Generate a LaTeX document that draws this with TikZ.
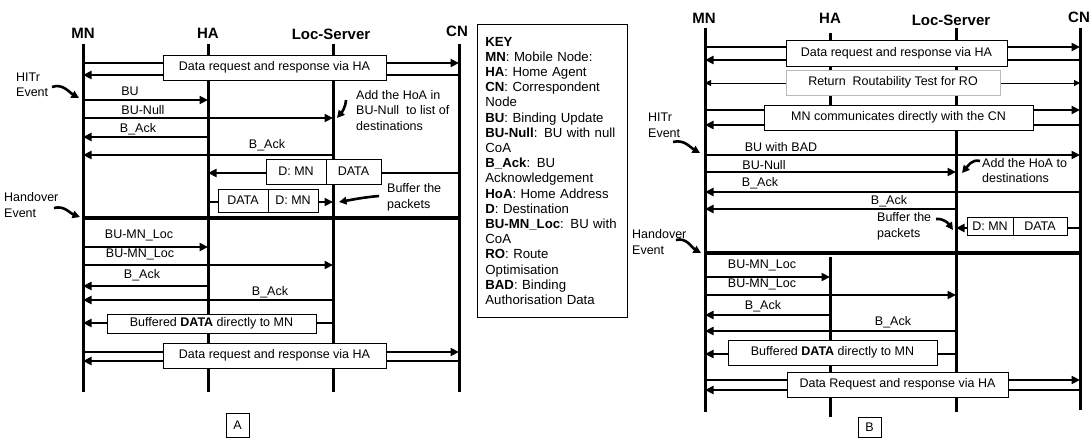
\documentclass[tikz,border=0pt]{standalone}
\usepackage{fontspec}
\setmainfont{Liberation Sans}
\usetikzlibrary{arrows.meta}
\tikzset{
  life/.style={line width=3pt},
  msg/.style={line width=2.6pt,-{Triangle[length=8.5pt,width=8pt]}},
  rrmsg/.style={line width=1pt,{Triangle[length=6pt,width=6pt]}-{Triangle[length=6pt,width=6pt]}},
  hand/.style={line width=4.5pt},
  evt/.style={line width=2.6pt,-{Triangle[length=7.5pt,width=7.5pt]}},
  txt/.style={inner sep=0pt,font=\fontsize{12.5}{15.5}\selectfont},
  lab/.style={txt},
  note/.style={txt,anchor=west,align=left},
  mbox/.style 2 args={txt,draw,fill=white,line width=0.8pt,minimum width=#1pt,minimum height=#2pt},
  head/.style={inner sep=0pt,font=\fontsize{15}{17}\selectfont\bfseries},
}
\begin{document}
\begin{tikzpicture}[x=1pt,y=-1pt]
\useasboundingbox (0,0) rectangle (1092,439);
% A
\coordinate (mnA) at (83,44);
\coordinate (haA) at (208,44);
\coordinate (lsA) at (333,44);
\coordinate (cnA) at (459,44);
\node[head] (tmnA) at (83,33) {MN};
\node[head] (thaA) at (208,33) {HA};
\node[head] (tlsA) at (331,34) {Loc-Server};
\node[head] (tcnA) at (457,31) {CN};
\draw[life] (mnA) -- (mnA |- 0,392);
\draw[life] (haA) -- (haA |- 0,392);
\draw[life] (lsA) -- (lsA |- 0,392);
\draw[life] (cnA) -- (cnA |- 0,392);

\draw[msg] (mnA |- 0,63) -- (cnA |- 0,63);
\draw[msg] (cnA |- 0,75) -- (mnA |- 0,75);
\node[mbox={223}{25}] (reqA1) at (274.5,67.5) {Data request and response via HA};

\node[note] (hitrA) at (16,85) {HITr\\Event};
\coordinate (hitrAs) at (52,87);
\coordinate (hitrAe) at (79,98);
\draw[evt] (hitrAs) to[out=20,in=150] (hitrAe);

\draw[msg] (mnA |- 0,100) -- (haA |- 0,100);
\node[lab] (buA) at (130,91) {BU};
\draw[msg] (mnA |- 0,118) -- (lsA |- 0,118);
\node[lab] (bunullA) at (143,110) {BU-Null};
\draw[msg] (haA |- 0,137) -- (mnA |- 0,137);
\node[lab] (ackA1) at (138,129) {B\_Ack};
\draw[msg] (lsA |- 0,155) -- (mnA |- 0,155);
\node[lab] (ackA2) at (267,145) {B\_Ack};

\node[note] (addA) at (356,110.5) {Add the HoA in\\BU-Null~ to list of\\destinations};
\coordinate (addAs) at (346,100);
\coordinate (addAe) at (337,118);
\draw[evt] (addAs) to[out=-95,in=50] (addAe);

\draw[msg] (cnA |- 0,173) -- (haA |- 0,173);
\node[mbox={60}{25}] (dmnA1) at (296,171.5) {D: MN};
\node[mbox={55}{25}] (dataA1) at (353.5,171.5) {DATA};
\draw[msg] (haA |- 0,202) -- (lsA |- 0,202);
\node[mbox={50}{23}] (dataA2) at (243,200.5) {DATA};
\node[mbox={50}{23}] (dmnA2) at (293,200.5) {D: MN};
\node[note] (bufA) at (387,197.5) {Buffer the\\packets};
\coordinate (bufAs) at (379,196);
\coordinate (bufAe) at (339,202);
\draw[evt] (bufAs) to[out=185,in=10] (bufAe);

\draw[hand] (mnA |- 0,218) -- (cnA |- 0,218);
\node[note] (hoA) at (4,205) {Handover\\Event};
\coordinate (hoAs) at (54,208);
\coordinate (hoAe) at (80,217);
\draw[evt] (hoAs) to[out=15,in=160] (hoAe);

\draw[msg] (mnA |- 0,247) -- (haA |- 0,247);
\node[lab] (locA1) at (139,235) {BU-MN\_Loc};
\draw[msg] (mnA |- 0,265) -- (lsA |- 0,265);
\node[lab] (locA2) at (140,254) {BU-MN\_Loc};
\draw[msg] (haA |- 0,286) -- (mnA |- 0,286);
\node[lab] (ackA3) at (142,275) {B\_Ack};
\draw[msg] (lsA |- 0,300) -- (mnA |- 0,300);
\node[lab] (ackA4) at (270,292) {B\_Ack};
\draw[msg] (lsA |- 0,323) -- (mnA |- 0,323);
\node[mbox={209}{19}] (bufdA) at (211.5,323.5) {Buffered \textbf{DATA} directly to MN};
\draw[msg] (mnA |- 0,352) -- (cnA |- 0,352);
\draw[msg] (cnA |- 0,361) -- (mnA |- 0,361);
\node[mbox={223}{25}] (reqA2) at (274.5,355.5) {Data request and response via HA};
\node[mbox={23}{24}] (capA) at (237.5,425) {A};

% key
\node[draw,line width=0.8pt,anchor=north west,inner xsep=8pt,inner ysep=0pt,
  minimum height=293pt,text width=134pt,align=left,
  font=\fontsize{13.2}{15.2}\selectfont] (key) at (477,24) {%
\textbf{KEY}\\
\textbf{MN}: Mobile Node:\\
\textbf{HA}: Home Agent\\
\textbf{CN}: Correspondent\\
Node\\
\textbf{BU}: Binding Update\\
\textbf{BU-Null}: BU with null\\
CoA\\
\textbf{B\_Ack}: BU\\
Acknowledgement\\
\textbf{HoA}: Home Address\\
\textbf{D}: Destination\\
\textbf{BU-MN\_Loc}: BU with\\
CoA\\
\textbf{RO}: Route\\
Optimisation\\
\textbf{BAD}: Binding\\
Authorisation Data};

% B
\coordinate (mnB) at (705,28);
\coordinate (haB) at (830,33);
\coordinate (lsB) at (956,28);
\coordinate (cnB) at (1080,28);
\node[head] (tmnB) at (704,18) {MN};
\node[head] (thaB) at (830,18) {HA};
\node[head] (tlsB) at (951,20) {Loc-Server};
\node[head] (tcnB) at (1079,17) {CN};
\draw[life] (mnB) -- (mnB |- 0,412);
\draw[life] (haB) -- (haB |- 0,110);
\draw[life] (haB |- 0,257) -- (haB |- 0,417);
\draw[life] (lsB) -- (lsB |- 0,412);
\draw[life] (cnB) -- (cnB |- 0,410);

\draw[msg] (mnB |- 0,47) -- (cnB |- 0,47);
\draw[msg] (cnB |- 0,60) -- (mnB |- 0,60);
\node[mbox={221}{26}] (reqB1) at (896.5,53) {Data request and response via HA};
\draw[rrmsg] (mnB |- 0,83) -- (cnB |- 0,83);
\node[mbox={214}{25},draw=gray!55] (rrB) at (893,82.5) {Return\ \ Routability Test for RO};
\draw[msg] (mnB |- 0,110) -- (cnB |- 0,110);
\draw[msg] (cnB |- 0,125) -- (mnB |- 0,125);
\node[mbox={269}{25}] (dirB) at (898.5,117.5) {MN communicates directly with the CN};

\node[note] (hitrB) at (648,125.5) {HITr\\Event};
\coordinate (hitrBs) at (673,142);
\coordinate (hitrBe) at (700,153);
\draw[evt] (hitrBs) to[out=15,in=150] (hitrBe);

\draw[msg] (mnB |- 0,155) -- (cnB |- 0,155);
\node[lab] (badB) at (781,147) {BU with BAD};
\draw[msg] (mnB |- 0,172) -- (lsB |- 0,172);
\node[lab] (bunullB) at (764,165) {BU-Null};
\node[note] (addB) at (982,170.5) {Add the HoA to\\destinations};
\coordinate (addBs) at (980,161);
\coordinate (addBe) at (962,173);
\draw[evt] (addBs) to[out=165,in=50] (addBe);
\draw[msg] (cnB |- 0,192) -- (mnB |- 0,192);
\node[lab] (ackB1) at (760,183) {B\_Ack};
\draw[msg] (lsB |- 0,209) -- (mnB |- 0,209);
\node[lab] (ackB2) at (889,201) {B\_Ack};

\node[note] (bufB) at (877,226.5) {Buffer the\\packets};
\coordinate (bufBs) at (936,219);
\coordinate (bufBe) at (953,230);
\draw[evt] (bufBs) to[out=5,in=125] (bufBe);
\draw[msg] (cnB |- 0,228) -- (lsB |- 0,228);
\node[mbox={46}{18}] (dmnB) at (990,226) {D: MN};
\node[mbox={54}{18}] (dataB) at (1040,226) {DATA};

\draw[hand] (mnB |- 0,253) -- (cnB |- 0,253);
\node[note] (hoB) at (632,242) {Handover\\Event};
\coordinate (hoBs) at (676,240);
\coordinate (hoBe) at (701,253);
\draw[evt] (hoBs) to[out=15,in=150] (hoBe);

\draw[msg] (mnB |- 0,277) -- (haB |- 0,277);
\node[lab] (locB1) at (762,265) {BU-MN\_Loc};
\draw[msg] (mnB |- 0,295) -- (lsB |- 0,295);
\node[lab] (locB2) at (762,284) {BU-MN\_Loc};
\draw[msg] (haB |- 0,315) -- (mnB |- 0,315);
\node[lab] (ackB3) at (763,306) {B\_Ack};
\draw[msg] (lsB |- 0,331) -- (mnB |- 0,331);
\node[lab] (ackB4) at (893,322) {B\_Ack};
\draw[msg] (lsB |- 0,354) -- (mnB |- 0,354);
\node[mbox={209}{25}] (bufdB) at (832.5,352.5) {Buffered \textbf{DATA} directly to MN};
\draw[msg] (mnB |- 0,380) -- (cnB |- 0,380);
\draw[msg] (cnB |- 0,390) -- (mnB |- 0,390);
\node[mbox={221}{25}] (reqB2) at (897.5,384.5) {Data Request and response via HA};
\node[mbox={23}{20}] (capB) at (869.5,427) {B};
\end{tikzpicture}
\end{document}
